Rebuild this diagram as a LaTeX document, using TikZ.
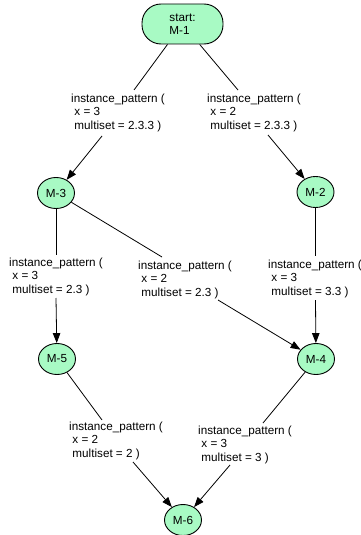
\documentclass[tikz,border=0pt]{standalone}
\usepackage{fontspec}
\setmainfont{Liberation Sans}
\usetikzlibrary{arrows.meta,shapes.geometric}

\definecolor{statefill}{RGB}{168,250,196}

\tikzset{
  state/.style={ellipse, draw=black, fill=statefill, line width=0.9pt,
    minimum width=37pt, minimum height=31pt,
    inner sep=0pt, font=\fontsize{11.7}{13.5}\selectfont},
  startstate/.style={rectangle, draw=black, fill=statefill, line width=0.9pt,
    rounded corners=19pt, minimum width=81pt, minimum height=40pt,
    inner sep=0pt, align=left, font=\fontsize{11.7}{13.5}\selectfont},
  edgelabel/.style={anchor=base west, inner sep=0pt,
    font=\fontsize{11.7}{13.5}\selectfont},
  link/.style={line width=0.8pt},
  arc/.style={link, -{Triangle[length=10pt,width=7.5pt]}}
}

% a three-line transition label, top line on the given baseline
\newcommand{\translabel}[2]{%
  \begin{tabular}[t]{@{}l@{}}instance\_pattern (\\\ x = #1\\\ multiset = #2 )\end{tabular}}

\begin{document}
\begin{tikzpicture}[x=1pt, y=-1pt]
  \useasboundingbox (0,0) rectangle (361,535);

  % states
  \node[startstate] (m1) at (182.5,24) {start:\\M-1};
  \node[state] (m3) at (56,193)    {M-3};
  \node[state] (m2) at (315.5,192) {M-2};
  \node[state] (m5) at (57,359)    {M-5};
  \node[state] (m4) at (316,359)   {M-4};
  \node[state] (m6) at (183,520)   {M-6};

  % transition labels
  \node[edgelabel] (l13) at (71,102)  {\translabel{3}{2.3.3}};
  \node[edgelabel] (l12) at (207,102) {\translabel{2}{2.3.3}};
  \node[edgelabel] (l35) at (9,266)   {\translabel{3}{2.3}};
  \node[edgelabel] (l34) at (138,269) {\translabel{2}{2.3}};
  \node[edgelabel] (l24) at (268,268) {\translabel{3}{3.3}};
  \node[edgelabel] (l56) at (69,430)  {\translabel{2}{2}};
  \node[edgelabel] (l46) at (198,434) {\translabel{3}{3}};

  % where each edge meets its label
  \coordinate (l13in) at (134,90);   \coordinate (l13out) at (102,136);
  \coordinate (l12in) at (238,90);   \coordinate (l12out) at (268,135);
  \coordinate (l35in) at (56,255);   \coordinate (l35out) at (56,298);
  \coordinate (l34in) at (162,257);  \coordinate (l34out) at (218,300);
  \coordinate (l24in) at (315.5,256);\coordinate (l24out) at (315.5,300);
  \coordinate (l56in) at (102,420);  \coordinate (l56out) at (133,462);
  \coordinate (l46in) at (263,423);  \coordinate (l46out) at (230,465);

  % transitions
  \draw[link] (m1) -- (l13in);  \draw[arc] (l13out) -- (m3);
  \draw[link] (m1) -- (l12in);  \draw[arc] (l12out) -- (m2);
  \draw[link] (m3) -- (l35in);  \draw[arc] (l35out) -- (m5);
  \draw[link] (m3) -- (l34in);  \draw[arc] (l34out) -- (m4);
  \draw[link] (m2) -- (l24in);  \draw[arc] (l24out) -- (m4);
  \draw[link] (m5) -- (l56in);  \draw[arc] (l56out) -- (m6);
  \draw[link] (m4) -- (l46in);  \draw[arc] (l46out) -- (m6);
\end{tikzpicture}
\end{document}
